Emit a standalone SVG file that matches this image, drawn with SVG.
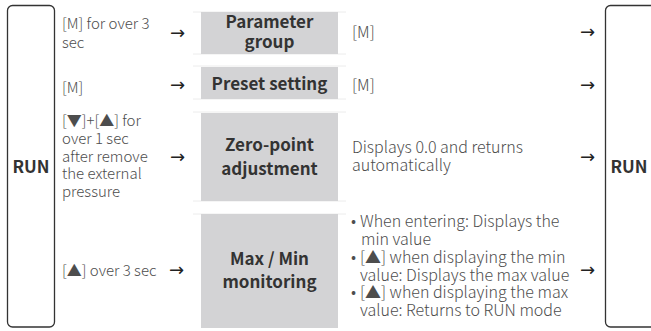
<svg xmlns="http://www.w3.org/2000/svg" width="651" height="331" viewBox="0 0 651 331">
<style>
.t{font-family:"Noto Sans CJK JP","Noto Sans",sans-serif;font-size:15px;fill:#4d4d4d;font-weight:300}
.r{font-family:"Noto Sans CJK JP","Noto Sans",sans-serif;font-size:16px;fill:#4d4d4d;font-weight:300}
.b{font-family:"Noto Sans CJK JP","Noto Sans",sans-serif;font-size:17px;fill:#333;font-weight:700;text-anchor:middle}
.a{font-family:"DejaVu Sans",sans-serif;font-size:18px;fill:#222}
.cell{fill:#d3d3d5}
.rl{stroke:#ececec;stroke-width:1}
.run{fill:none;stroke:#333;stroke-width:1.3}
</style>
<rect width="651" height="331" fill="#fff"/>
<g id="run-left">
<rect class="run" x="7.5" y="5.5" width="47" height="321.5" rx="5"/>
<text class="b" x="31" y="173">RUN</text>
</g>
<g id="run-right">
<rect class="run" x="605.5" y="5.5" width="52" height="321.5" rx="5"/>
<text class="b" x="629" y="173">RUN</text>
</g>
<g id="table-lines">
<line class="rl" x1="193" y1="12" x2="346" y2="12"/>
<line class="rl" x1="193" y1="54" x2="346" y2="54"/>
<line class="rl" x1="193" y1="66" x2="346" y2="66"/>
<line class="rl" x1="193" y1="99" x2="346" y2="99"/>
<line class="rl" x1="193" y1="112" x2="346" y2="112"/>
<line class="rl" x1="193" y1="201" x2="346" y2="201"/>
<line class="rl" x1="193" y1="214" x2="346" y2="214"/>
</g>
<g id="parameter-group">
<rect class="cell" x="201" y="12" width="137" height="42"/>
<text class="b" x="269.5" y="28">Parameter</text>
<text class="b" x="269.5" y="48">group</text>
</g>
<g id="preset-setting">
<rect class="cell" x="201" y="67" width="137" height="32"/>
<text class="b" x="269.5" y="90">Preset setting</text>
</g>
<g id="zero-point">
<rect class="cell" x="201" y="113" width="137" height="88"/>
<text class="b" x="269.5" y="151">Zero-point</text>
<text class="b" x="269.5" y="175">adjustment</text>
</g>
<g id="max-min">
<rect class="cell" x="201" y="214" width="137" height="114"/>
<text class="b" x="269.5" y="265">Max / Min</text>
<text class="b" x="269.5" y="288">monitoring</text>
</g>
<g id="left-labels">
<text class="t" x="62" y="29">[M] for over 3</text>
<text class="t" x="62" y="48">sec</text>
<text class="t" x="62" y="93">[M]</text>
<text class="t" x="62" y="126">[▼]+[▲] for</text>
<text class="t" x="62" y="144">over 1 sec</text>
<text class="t" x="62" y="162">after remove</text>
<text class="t" x="62" y="179">the external</text>
<text class="t" x="62" y="197">pressure</text>
<text class="t" x="62" y="276">[▲] over 3 sec</text>
</g>
<g id="right-labels">
<text class="r" x="352" y="38">[M]</text>
<text class="r" x="352" y="91">[M]</text>
<text class="r" x="352" y="153">Displays 0.0 and returns</text>
<text class="r" x="352" y="171">automatically</text>
<text class="r" x="351" y="227">•</text>
<text class="r" x="360" y="227">When entering: Displays the</text>
<text class="r" x="361" y="245">min value</text>
<text class="r" x="351" y="263">•</text>
<text class="r" x="360" y="263">[▲] when displaying the min</text>
<text class="r" x="360" y="281">value: Displays the max value</text>
<text class="r" x="351" y="298">•</text>
<text class="r" x="360" y="298">[▲] when displaying the max</text>
<text class="r" x="360" y="316">value: Returns to RUN mode</text>
</g>
<g id="connectors">
<text class="a" x="170" y="39">→</text>
<text class="a" x="170" y="91">→</text>
<text class="a" x="170" y="163">→</text>
<text class="a" x="169" y="276">→</text>
<text class="a" x="580" y="38">→</text>
<text class="a" x="580" y="91">→</text>
<text class="a" x="580" y="163">→</text>
<text class="a" x="580" y="276">→</text>
</g>
</svg>
